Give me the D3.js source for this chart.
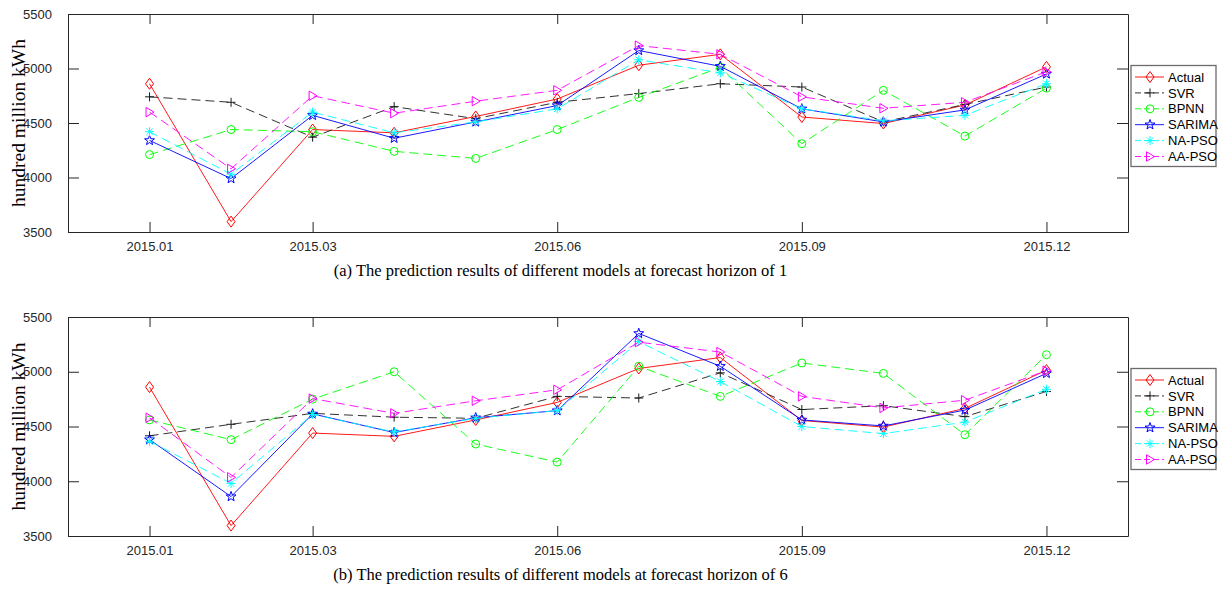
<!DOCTYPE html>
<html>
<head>
<meta charset="utf-8">
<script src="https://cdn.jsdelivr.net/npm/d3@7"></script>
<style>
  body { margin: 0; background: #fff; }
  svg { display: block; }
  .tick-lbl { font-family: "Liberation Sans", Arial, sans-serif; font-size: 13px; fill: #262626; }
  .serif { font-family: "Liberation Serif", "Times New Roman", serif; fill: #000; }
</style>
</head>
<body>
<svg id="chart" width="1220" height="592"></svg>
<script>
// month index 1..12 of 2015
var months = [1, 2, 3, 4, 5, 6, 7, 8, 9, 10, 11, 12];
var tickMonths = [1, 3, 6, 9, 12];
var tickLabels = ["2015.01", "2015.03", "2015.06", "2015.09", "2015.12"];
var yTicks = [3500, 4000, 4500, 5000, 5500];

var seriesNames = ["Actual", "SVR", "BPNN", "SARIMA", "NA-PSO", "AA-PSO"];

var actual = [4860, 3595, 4440, 4410, 4560, 4720, 5030, 5130, 4555, 4495, 4665, 5015];

// forecast horizon 1
var svr1    = [4740, 4690, 4370, 4650, 4540, 4690, 4770, 4860, 4830, 4510, 4670, 4830];
var bpnn1   = [4210, 4440, 4420, 4240, 4175, 4440, 4735, 5010, 4310, 4800, 4380, 4820];
var sarima1 = [4340, 3990, 4570, 4360, 4510, 4660, 5165, 5020, 4630, 4510, 4620, 4950];
var napso1  = [4420, 4030, 4600, 4410, 4510, 4630, 5080, 4960, 4630, 4520, 4570, 4860];
var aapso1  = [4600, 4080, 4750, 4590, 4700, 4800, 5210, 5130, 4740, 4635, 4690, 4970];

// forecast horizon 6
var svr6    = [4415, 4520, 4620, 4585, 4575, 4775, 4760, 4990, 4655, 4690, 4590, 4820];
var bpnn6   = [4560, 4380, 4750, 5000, 4340, 4175, 5050, 4775, 5080, 4985, 4425, 5155];
var sarima6 = [4380, 3860, 4615, 4445, 4580, 4645, 5350, 5050, 4560, 4505, 4650, 4985];
var napso6  = [4365, 3980, 4610, 4450, 4575, 4645, 5275, 4910, 4500, 4435, 4540, 4840];
var aapso6  = [4580, 4035, 4755, 4620, 4735, 4835, 5270, 5180, 4775, 4670, 4740, 5010];

var colors = ["#ff0000", "#1a1a1a", "#00ff00", "#0000ff", "#00ffff", "#ff00ff"];
var dashes = [null, "9,5", "9,5", null, "9,5", "9,5"];

// MATLAB-like marker shapes
function pentagram(R, r) {
  var p = [];
  for (var i = 0; i < 10; i++) {
    var a = -Math.PI / 2 + i * Math.PI / 5;
    var rr = i % 2 === 0 ? R : r;
    p.push([rr * Math.cos(a), rr * Math.sin(a)]);
  }
  return "M" + p.map(function(q){ return q[0].toFixed(2) + "," + q[1].toFixed(2); }).join("L") + "Z";
}
var markers = [
  "M0,-5.5L4,0L0,5.5L-4,0Z",
  "M-4.5,0H4.5M0,-4.5V4.5",
  "M4,0A4,4 0 1,1 -4,0A4,4 0 1,1 4,0Z",
  pentagram(5.2, 2.1),
  "M-4.5,0H4.5M0,-4.5V4.5M-3.2,-3.2L3.2,3.2M-3.2,3.2L3.2,-3.2",
  "M4.5,0L-3.5,-4.7L-3.5,4.7Z"
];

var svg = d3.select("#chart");

var left = 68, right = 1128;
var x = d3.scaleLinear().domain([0, 13]).range([left, right]);

var panels = [
  { top: 14, bottom: 232, series: [actual, svr1, bpnn1, sarima1, napso1, aapso1],
    caption: "(a) The prediction results of different models at forecast horizon of 1", capY: 276 },
  { top: 317, bottom: 536, series: [actual, svr6, bpnn6, sarima6, napso6, aapso6],
    caption: "(b) The prediction results of different models at forecast horizon of 6", capY: 580 }
];

panels.forEach(function(p) {
  var y = d3.scaleLinear().domain([3500, 5500]).range([p.bottom, p.top]);
  var g = svg.append("g");

  var line = d3.line()
      .x(function(d, i){ return x(months[i]); })
      .y(function(d){ return y(d); });

  // series lines and markers
  p.series.forEach(function(vals, k) {
    g.append("path")
      .attr("d", line(vals))
      .attr("fill", "none")
      .attr("stroke", colors[k])
      .attr("stroke-width", 0.9)
      .attr("stroke-dasharray", dashes[k]);
    g.selectAll(".m" + k)
      .data(vals)
      .enter().append("path")
      .attr("class", "m" + k)
      .attr("d", markers[k])
      .attr("transform", function(d, i){ return "translate(" + x(months[i]) + "," + y(d) + ")"; })
      .attr("fill", "none")
      .attr("stroke", colors[k])
      .attr("stroke-width", 1);
  });

  // axes box with inward ticks (MATLAB style)
  var xb = d3.axisBottom(x).tickValues(tickMonths)
      .tickFormat(function(d, i){ return tickLabels[i]; })
      .tickSizeInner(-10).tickSizeOuter(0).tickPadding(10);
  var xt = d3.axisTop(x).tickValues(tickMonths).tickFormat("")
      .tickSizeInner(-10).tickSizeOuter(0);
  var yl = d3.axisLeft(y).tickValues(yTicks).tickFormat(d3.format("d"))
      .tickSizeInner(-11).tickSizeOuter(0).tickPadding(16);
  var yr = d3.axisRight(y).tickValues(yTicks).tickFormat("")
      .tickSizeInner(-11).tickSizeOuter(0);

  var axes = [
    g.append("g").attr("transform", "translate(0," + p.bottom + ")").call(xb),
    g.append("g").attr("transform", "translate(0," + p.top + ")").call(xt),
    g.append("g").attr("transform", "translate(" + left + ",0)").call(yl),
    g.append("g").attr("transform", "translate(" + right + ",0)").call(yr)
  ];
  axes.forEach(function(a) {
    a.selectAll("path.domain").attr("stroke", "#262626").attr("stroke-width", 1);
    a.selectAll(".tick line").attr("stroke", "#262626").attr("stroke-width", 1);
    a.selectAll(".tick text").attr("class", "tick-lbl").attr("font-family", null).attr("font-size", null);
  });

  // y label
  svg.append("text")
    .attr("class", "serif")
    .attr("transform", "translate(25," + ((p.top + p.bottom) / 2) + ") rotate(-90)")
    .attr("text-anchor", "middle")
    .style("font-size", "19.5px")
    .text("hundred million kWh");

  // caption
  svg.append("text")
    .attr("class", "serif")
    .attr("x", 560.5)
    .attr("y", p.capY)
    .attr("text-anchor", "middle")
    .style("font-size", "16.5px")
    .text(p.caption);

  // legend
  var lx = 1131, ly = p.top + 51.5, lw = 85, lh = 101;
  var lg = svg.append("g");
  lg.append("rect")
    .attr("x", lx).attr("y", ly).attr("width", lw).attr("height", lh)
    .attr("fill", "#fff").attr("stroke", "#6b6b6b").attr("stroke-width", 1.3);
  seriesNames.forEach(function(name, k) {
    var ry = ly + 11.5 + k * 15.9;
    lg.append("line")
      .attr("x1", lx + 4).attr("x2", lx + 33).attr("y1", ry).attr("y2", ry)
      .attr("stroke", colors[k]).attr("stroke-width", 0.9)
      .attr("stroke-dasharray", dashes[k] ? "6,3" : null);
    lg.append("path")
      .attr("d", markers[k])
      .attr("transform", "translate(" + (lx + 19) + "," + ry + ")")
      .attr("fill", "none").attr("stroke", colors[k]).attr("stroke-width", 1);
    lg.append("text")
      .attr("class", "tick-lbl")
      .attr("x", lx + 37).attr("y", ry)
      .attr("dy", "0.36em")
      .style("fill", "#000")
      .text(name);
  });
});
</script>
</body>
</html>
